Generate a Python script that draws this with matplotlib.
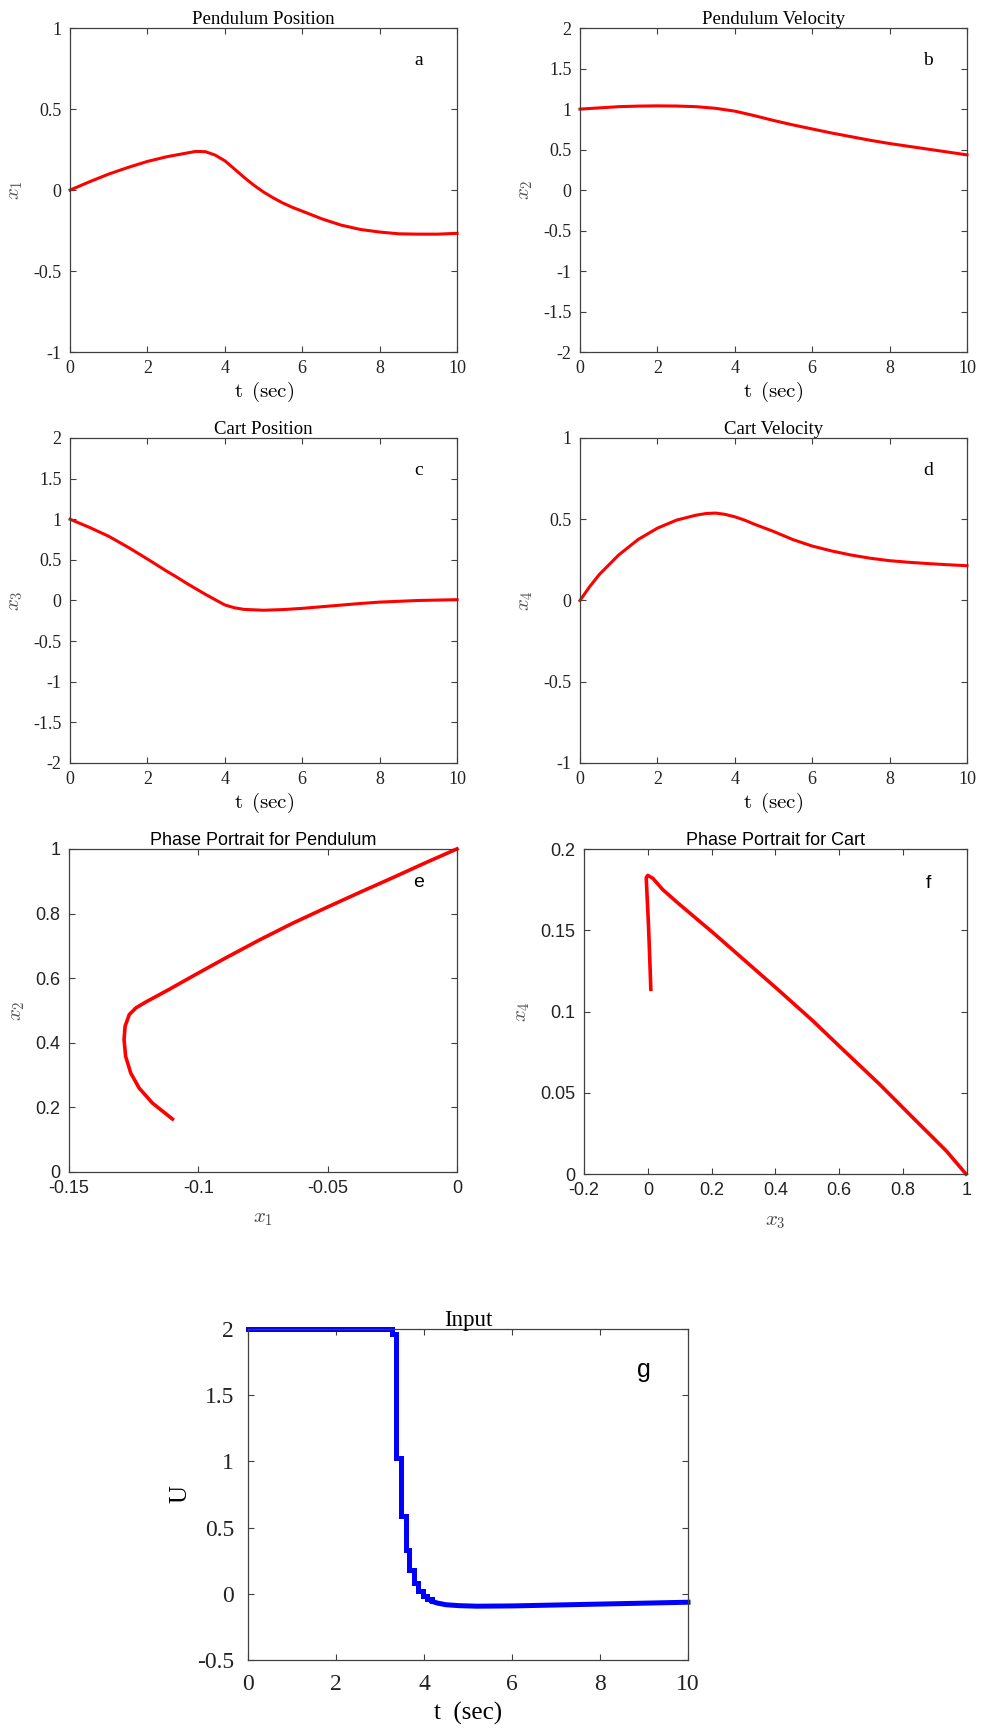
import matplotlib

matplotlib.use("Agg")
import matplotlib.pyplot as plt

plt.rcParams["mathtext.fontset"] = "cm"
plt.rcParams["axes.linewidth"] = 0.9

SERIF = "Liberation Serif"
SANS = "Liberation Sans"
AXIS_COLOR = "#404040"

# pendulum position x1(t)
t_x1 = [0, 0.5, 1, 1.5, 2, 2.5, 3, 3.25, 3.5, 3.75, 4, 4.25, 4.5, 4.75, 5, 5.25, 5.5,
        5.75, 6, 6.5, 7, 7.5, 8, 8.5, 9, 9.5, 10]
x1 = [0.0, 0.051, 0.099, 0.140, 0.177, 0.206, 0.228, 0.239, 0.237, 0.216, 0.181, 0.130,
      0.078, 0.03, -0.012, -0.048, -0.08, -0.107, -0.13, -0.177, -0.216, -0.243,
      -0.259, -0.27, -0.272, -0.272, -0.267]

# pendulum velocity x2(t)
t_x2 = [0, 0.5, 1, 1.5, 2, 2.5, 3, 3.5, 4, 4.5, 5, 5.5, 6, 6.5, 7, 7.5, 8, 8.5, 9, 9.5, 10]
x2 = [1.0, 1.015, 1.03, 1.037, 1.04, 1.038, 1.03, 1.01, 0.975, 0.92, 0.86, 0.805,
      0.755, 0.705, 0.66, 0.615, 0.575, 0.54, 0.505, 0.47, 0.435]

# cart position x3(t)
t_x3 = [0, 0.5, 1, 1.5, 2, 2.5, 2.75, 3, 3.25, 3.5, 3.75, 4, 4.25, 4.5, 5, 5.5, 6, 6.5,
        7, 7.5, 8, 8.5, 9, 9.5, 10]
x3 = [1.0, 0.9, 0.79, 0.655, 0.51, 0.36, 0.29, 0.215, 0.145, 0.075, 0.01, -0.055,
      -0.09, -0.11, -0.12, -0.112, -0.097, -0.077, -0.057, -0.037, -0.02, -0.01,
      0.0, 0.005, 0.01]

# cart velocity x4(t)
t_x4 = [0, 0.25, 0.5, 1, 1.5, 2, 2.5, 3, 3.25, 3.5, 3.75, 4, 4.25, 4.5, 5, 5.5, 6, 6.5,
        7, 7.5, 8, 8.5, 9, 9.5, 10]
x4 = [0.0, 0.085, 0.16, 0.28, 0.375, 0.445, 0.495, 0.525, 0.535, 0.538, 0.53, 0.515,
      0.495, 0.47, 0.425, 0.375, 0.335, 0.305, 0.28, 0.26, 0.245, 0.235, 0.227,
      0.22, 0.214]

# phase portrait for pendulum (x1, x2)
pend_x1 = [0.0, -0.0119, -0.0248, -0.0377, -0.0506, -0.0635, -0.0764, -0.0893,
           -0.1022, -0.1113, -0.1203, -0.1241, -0.1267, -0.1283, -0.1287, -0.1281,
           -0.1261, -0.1229, -0.1177, -0.1100]
pend_x2 = [1.0, 0.958, 0.911, 0.865, 0.818, 0.770, 0.718, 0.663, 0.606, 0.565, 0.526,
           0.508, 0.487, 0.451, 0.410, 0.358, 0.306, 0.260, 0.213, 0.164]

# phase portrait for cart (x3, x4)
cart_x3 = [0.997, 0.935, 0.830, 0.726, 0.621, 0.517, 0.4125, 0.308, 0.204, 0.099,
           0.047, 0.0157, 0.0, -0.005, -0.003, 0.002, 0.006, 0.0094]
cart_x4 = [0.0, 0.0143, 0.0348, 0.0553, 0.0748, 0.0943, 0.1127, 0.1307, 0.1486, 0.166,
           0.175, 0.182, 0.1838, 0.1824, 0.174, 0.1537, 0.133, 0.1137]

# control input (zero-order hold part, then smooth tail)
t_hold = [0, 3.28, 3.37, 3.47, 3.58, 3.67, 3.78, 3.86, 3.97, 4.07, 4.18]
u_hold = [2.0, 1.965, 1.026, 0.585, 0.334, 0.18, 0.08, 0.024, -0.02, -0.04, -0.057]
t_tail = [4.18, 4.3, 4.5, 4.8, 5.2, 6, 7, 8, 9, 10]
u_tail = [-0.057, -0.07, -0.083, -0.09, -0.094, -0.092, -0.085, -0.078, -0.071, -0.064]

T_TICKS = [0, 2, 4, 6, 8, 10]


def style_axis(ax, family, size, pad=6):
    for spine in ax.spines.values():
        spine.set_color(AXIS_COLOR)
    ax.tick_params(direction="in", length=4, width=0.8, color=AXIS_COLOR,
                   top=True, right=True, labelsize=size, pad=pad)
    for label in ax.get_xticklabels() + ax.get_yticklabels():
        label.set_fontfamily(family)
        label.set_color("#222222")


def time_panel(fig, rect, t, y, ylim, yticks, title, ylabel, tag):
    ax = fig.add_axes(rect)
    ax.plot(t, y, color="red", lw=2.2, clip_on=False)
    ax.set_xlim(0, 10)
    ax.set_ylim(*ylim)
    ax.set_xticks(T_TICKS)
    ax.set_yticks(yticks)
    ax.set_yticklabels([f"{v:g}" for v in yticks])
    style_axis(ax, SERIF, 13)
    ax.set_title(title, family=SERIF, fontsize=13.5, pad=3)
    ax.set_xlabel(r"$\mathrm{t\ \,(sec)}$", fontsize=15, labelpad=2)
    ax.set_ylabel(ylabel, fontsize=15, color="#555555", labelpad=6)
    ax.text(0.9, 0.9, tag, transform=ax.transAxes, family=SERIF, fontsize=14,
            ha="center", va="center")
    return ax


fig = plt.figure(figsize=(9.81, 17.36), dpi=100)

time_panel(fig, [0.0714, 0.7972, 0.3945, 0.1866], t_x1, x1, (-1, 1),
           [-1, -0.5, 0, 0.5, 1], "Pendulum Position", r"$x_1$", "a")
time_panel(fig, [0.5912, 0.7972, 0.3945, 0.1866], t_x2, x2, (-2, 2),
           [-2, -1.5, -1, -0.5, 0, 0.5, 1, 1.5, 2], "Pendulum Velocity", r"$x_2$", "b")
time_panel(fig, [0.0714, 0.5605, 0.3945, 0.1872], t_x3, x3, (-2, 2),
           [-2, -1.5, -1, -0.5, 0, 0.5, 1, 1.5, 2], "Cart Position", r"$x_3$", "c")
time_panel(fig, [0.5912, 0.5605, 0.3945, 0.1872], t_x4, x4, (-1, 1),
           [-1, -0.5, 0, 0.5, 1], "Cart Velocity", r"$x_4$", "d")

# phase portrait for pendulum
ax_e = fig.add_axes([0.0703, 0.3249, 0.3955, 0.1861])
ax_e.plot(pend_x1, pend_x2, color="red", lw=2.6, clip_on=False)
ax_e.set_xlim(-0.15, 0)
ax_e.set_ylim(0, 1)
ax_e.set_xticks([-0.15, -0.1, -0.05, 0])
ax_e.set_xticklabels(["-0.15", "-0.1", "-0.05", "0"])
ax_e.set_yticks([0, 0.2, 0.4, 0.6, 0.8, 1])
ax_e.set_yticklabels(["0", "0.2", "0.4", "0.6", "0.8", "1"])
style_axis(ax_e, SANS, 13)
ax_e.set_title("Phase Portrait for Pendulum", family=SANS, fontsize=13, pad=3)
ax_e.set_xlabel(r"$x_1$", fontsize=15, color="#444444", labelpad=8)
ax_e.set_ylabel(r"$x_2$", fontsize=15, color="#555555", labelpad=6)
ax_e.text(0.9, 0.895, "e", transform=ax_e.transAxes, family=SANS, fontsize=14,
          ha="center", va="center")

# phase portrait for cart
ax_f = fig.add_axes([0.5953, 0.3237, 0.3904, 0.1872])
ax_f.plot(cart_x3, cart_x4, color="red", lw=2.6, clip_on=False)
ax_f.set_xlim(-0.2, 1)
ax_f.set_ylim(0, 0.2)
ax_f.set_xticks([-0.2, 0, 0.2, 0.4, 0.6, 0.8, 1])
ax_f.set_xticklabels(["-0.2", "0", "0.2", "0.4", "0.6", "0.8", "1"])
ax_f.set_yticks([0, 0.05, 0.1, 0.15, 0.2])
ax_f.set_yticklabels(["0", "0.05", "0.1", "0.15", "0.2"])
style_axis(ax_f, SANS, 13)
ax_f.set_title("Phase Portrait for Cart", family=SANS, fontsize=13, pad=3)
ax_f.set_xlabel(r"$x_3$", fontsize=15, color="#444444", labelpad=8)
ax_f.set_ylabel(r"$x_4$", fontsize=15, color="#555555", labelpad=6)
ax_f.text(0.9, 0.895, "f", transform=ax_f.transAxes, family=SANS, fontsize=14,
          ha="center", va="center")

# control input
ax_g = fig.add_axes([0.2528, 0.0438, 0.4485, 0.1907])
ax_g.step(t_hold, u_hold, where="post", color="blue", lw=3.6, clip_on=False,
          solid_joinstyle="miter")
ax_g.plot(t_tail, u_tail, color="blue", lw=3.6, clip_on=False)
ax_g.set_xlim(0, 10)
ax_g.set_ylim(-0.5, 2)
ax_g.set_xticks(T_TICKS)
ax_g.set_yticks([-0.5, 0, 0.5, 1, 1.5, 2])
ax_g.set_yticklabels(["-0.5", "0", "0.5", "1", "1.5", "2"])
style_axis(ax_g, SERIF, 17, pad=10)
ax_g.set_title("Input", family=SERIF, fontsize=16.5, pad=2)
ax_g.set_xlabel("t  (sec)", family=SERIF, fontsize=18, labelpad=5)
ax_g.set_ylabel("U", family=SERIF, fontsize=18, labelpad=4)
ax_g.text(0.9, 0.875, "g", transform=ax_g.transAxes, family=SANS, fontsize=18,
          ha="center", va="center")

fig.savefig("out.png", dpi=100)
